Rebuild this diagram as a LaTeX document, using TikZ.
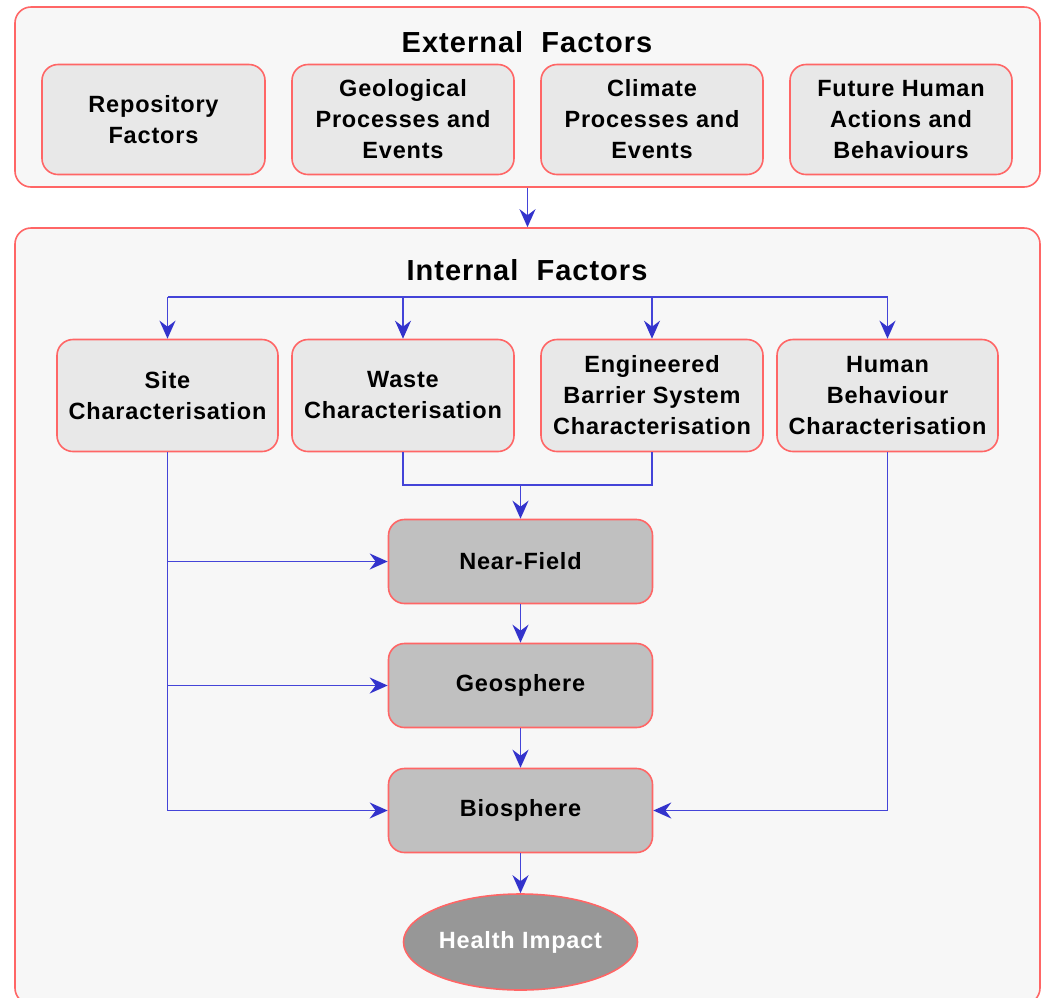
\documentclass[tikz,border=0pt]{standalone}
\usepackage{fontspec}
\setmainfont[LetterSpace=3.5]{Liberation Sans}
\usetikzlibrary{arrows.meta,shapes.geometric}
\definecolor{edgered}{HTML}{FF6666}
\definecolor{panel}{HTML}{F7F7F7}
\definecolor{lightbox}{HTML}{E8E8E8}
\definecolor{midbox}{HTML}{C0C0C0}
\definecolor{darkbox}{HTML}{979797}
\definecolor{flow}{HTML}{4444D8}
\definecolor{flowtip}{HTML}{3333CC}
\tikzset{
  container/.style={draw=edgered, line width=1.6pt, fill=panel, rounded corners=16pt},
  factor/.style={draw=edgered, line width=1.6pt, fill=lightbox, rounded corners=16pt,
    align=center, font=\bfseries\fontsize{23.5}{31}\selectfont, inner sep=0pt},
  stage/.style={draw=edgered, line width=1.6pt, fill=midbox, rounded corners=16pt,
    align=center, font=\bfseries\fontsize{23.5}{31}\selectfont, inner sep=0pt,
    minimum width=264pt, minimum height=84pt},
  heading/.style={font=\bfseries\fontsize{29}{34}\selectfont, inner sep=0pt},
  wire/.style={draw=flow, line width=1.5pt},
  flowarrow/.style={wire, -{Stealth[length=18pt,width=16pt,inset=6pt,color=flowtip]}},
}
\begin{document}
\begin{tikzpicture}[x=1pt,y=-1pt]
  \clip (0,0) rectangle (1041,997);
  \useasboundingbox (0,0) rectangle (1041,997);
  \fill[white] (0,0) rectangle (1041,997);

  % outer panels
  \node[container, minimum width=1025pt, minimum height=180pt] (ext) at (527.5,97) {};
  \node[container, minimum width=1025pt, minimum height=776pt] (int) at (527.5,616) {};
  \node[heading] (exttitle) at (527,42) {External\ \ Factors};
  \node[heading] (inttitle) at (527,270) {Internal\ \ Factors};

  % external factors
  \node[factor, minimum width=223pt, minimum height=110pt] (repo) at (153.5,119.5) {Repository\\Factors};
  \node[factor, minimum width=222pt, minimum height=110pt] (geo) at (403,119.5) {Geological\\Processes and\\Events};
  \node[factor, minimum width=222pt, minimum height=110pt] (clim) at (652,119.5) {Climate\\Processes and\\Events};
  \node[factor, minimum width=222pt, minimum height=110pt] (fut) at (901,119.5) {Future Human\\Actions and\\Behaviours};

  % internal characterisations
  \node[factor, minimum width=221pt, minimum height=112pt] (site) at (167.5,395.5) {Site\\Characterisation};
  \node[factor, minimum width=222pt, minimum height=112pt] (waste) at (403,395.5) {Waste\\Characterisation};
  \node[factor, minimum width=222pt, minimum height=112pt] (ebs) at (652,395.5) {Engineered\\Barrier System\\Characterisation};
  \node[factor, minimum width=221pt, minimum height=112pt] (human) at (887.5,395.5) {Human\\Behaviour\\Characterisation};

  % barrier stages
  \node[stage] (near) at (520.5,561.5) {Near-Field};
  \node[stage] (geos) at (520.5,685.5) {Geosphere};
  \node[stage] (bio) at (520.5,810.5) {Biosphere};
  \node[ellipse, draw=edgered, line width=1.6pt, fill=darkbox, minimum width=234pt, minimum height=96pt,
        inner sep=0pt, text=white, font=\bfseries\fontsize{23.5}{31}\selectfont] (health) at (520.5,942) {Health Impact};

  % routing points
  \coordinate (bus) at (527,297);
  \coordinate (merge) at (520.5,485);

  % connectors
  \draw[flowarrow] (ext.south) -- (int.north);
  \draw[wire] (site.north |- bus) -- (human.north |- bus);
  \foreach \n in {site,waste,ebs,human}
    \draw[flowarrow] (\n.north |- bus) -- (\n.north);
  \draw[wire] (waste.south) |- (merge) -| (ebs.south);
  \draw[flowarrow] (merge) -- (near.north);
  \draw[flowarrow] (site.south) |- (bio.west);
  \draw[flowarrow] (site.south |- near.west) -- (near.west);
  \draw[flowarrow] (site.south |- geos.west) -- (geos.west);
  \draw[flowarrow] (human.south) |- (bio.east);
  \draw[flowarrow] (near.south) -- (geos.north);
  \draw[flowarrow] (geos.south) -- (bio.north);
  \draw[flowarrow] (bio.south) -- (health.north);
\end{tikzpicture}
\end{document}
